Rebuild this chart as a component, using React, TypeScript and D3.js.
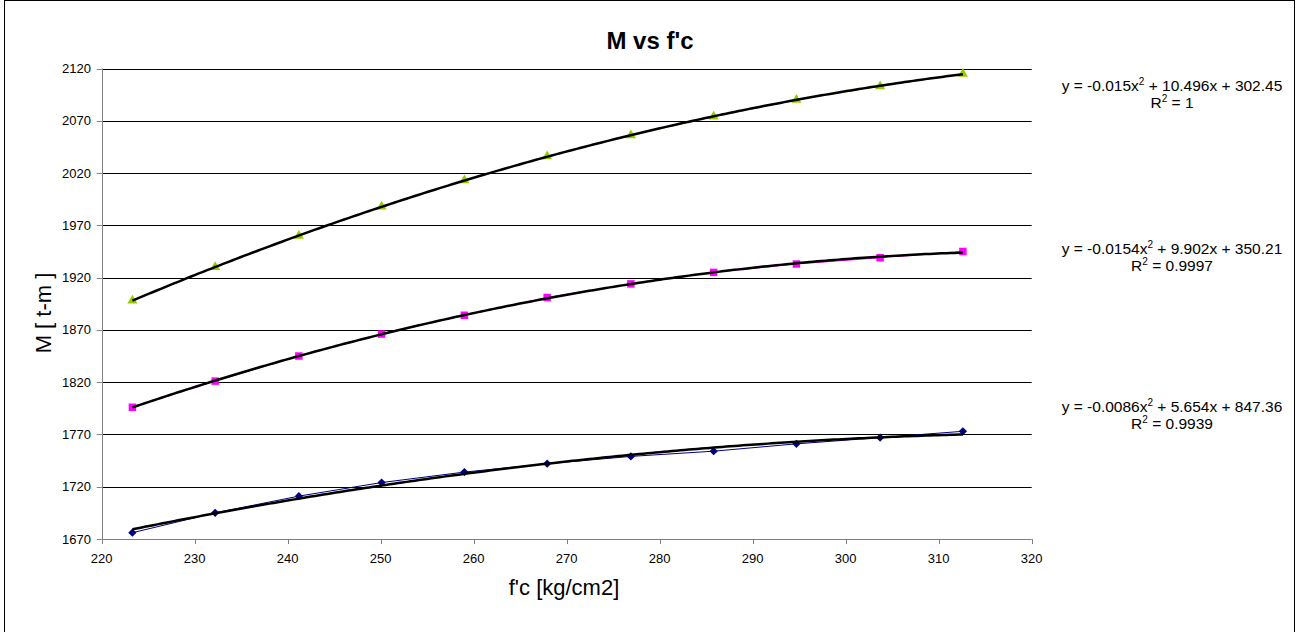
import React from "react";
import * as d3 from "d3";

// f'c values [kg/cm2]
const fcValues = [223.3, 232.2, 241.2, 250.1, 259.0, 267.9, 276.9, 285.8, 294.7, 303.7, 312.6];

// Moment values M [t-m] for each series
const seriesUpper = [1898, 1930, 1960, 1988, 2013, 2036, 2056, 2074, 2090, 2103, 2115];
const seriesMiddle = [1796, 1821, 1845, 1866, 1884, 1901, 1914, 1925, 1933, 1939, 1945];
const seriesLower = [1676, 1695, 1711, 1724, 1734, 1742, 1749, 1754, 1761, 1767, 1773];

// Trendline labels (coefficient text, R² text)
const eqUpper = ["y = -0.015x", " + 10.496x + 302.45", "1"];
const eqMiddle = ["y = -0.0154x", " + 9.902x + 350.21", "0.9997"];
const eqLower = ["y = -0.0086x", " + 5.654x + 847.36", "0.9939"];

const xTicks = [220, 230, 240, 250, 260, 270, 280, 290, 300, 310, 320];
const yTicks = [1670, 1720, 1770, 1820, 1870, 1920, 1970, 2020, 2070, 2120];

const W = 1296;
const H = 632;
const FONT = "'Liberation Sans', Arial, sans-serif";

// Second-order least-squares polynomial fit (like a spreadsheet trendline)
function polyFit2(xs: number[], ys: number[]) {
  const mx = d3.mean(xs) as number;
  let s0 = 0, s1 = 0, s2 = 0, s3 = 0, s4 = 0, t0 = 0, t1 = 0, t2 = 0;
  xs.forEach((xv, i) => {
    const u = xv - mx;
    const y = ys[i];
    s0 += 1; s1 += u; s2 += u * u; s3 += u * u * u; s4 += u * u * u * u;
    t0 += y; t1 += u * y; t2 += u * u * y;
  });
  // Solve 3x3 system with Cramer's rule
  const det = (m: number[][]) =>
    m[0][0] * (m[1][1] * m[2][2] - m[1][2] * m[2][1]) -
    m[0][1] * (m[1][0] * m[2][2] - m[1][2] * m[2][0]) +
    m[0][2] * (m[1][0] * m[2][1] - m[1][1] * m[2][0]);
  const A = [[s0, s1, s2], [s1, s2, s3], [s2, s3, s4]];
  const b = [t0, t1, t2];
  const D = det(A);
  const coef = [0, 1, 2].map((k) => {
    const M = A.map((row, r) => row.map((v, c) => (c === k ? b[r] : v)));
    return det(M) / D;
  });
  return (xv: number) => {
    const u = xv - mx;
    return coef[0] + coef[1] * u + coef[2] * u * u;
  };
}

const x = d3.scaleLinear().domain([220, 320]).range([101.7, 1031.7]);
const y = d3.scaleLinear().domain([1670, 2120]).range([539, 68.5]);

type Series = {
  values: number[];
  color: string;
  symbol: d3.SymbolType;
  size: number;
  rotate: number;
  eq: string[];
  eqY: number;
};

const series: Series[] = [
  { values: seriesLower, color: "#000080", symbol: d3.symbolSquare, size: 34, rotate: 45, eq: eqLower, eqY: 412 },
  { values: seriesMiddle, color: "#FF00FF", symbol: d3.symbolSquare, size: 56, rotate: 0, eq: eqMiddle, eqY: 254 },
  { values: seriesUpper, color: "#99CC00", symbol: d3.symbolTriangle, size: 44, rotate: 0, eq: eqUpper, eqY: 91 },
];

export default function App() {
  const line = d3
    .line<[number, number]>()
    .x((d) => x(d[0]))
    .y((d) => y(d[1]));

  const fineX = d3.range(0, 201).map((i) => fcValues[0] + ((fcValues[fcValues.length - 1] - fcValues[0]) * i) / 200);

  return (
    <svg
      width={W}
      height={H}
      style={{ position: "absolute", left: 0, top: 0, background: "#fff" }}
      fontFamily={FONT}
    >
      <rect x={0} y={0} width={W} height={H} fill="#fff" />
      {/* chart frame */}
      <rect x={4.5} y={0.5} width={1290} height={H + 10} fill="none" stroke="#000" strokeWidth={1} />

      {/* title */}
      <text x={650} y={49} textAnchor="middle" fontSize={24} fontWeight="bold">
        M vs f'c
      </text>

      {/* horizontal gridlines */}
      {yTicks.slice(1).map((t) => (
        <line key={t} x1={x(220)} x2={x(320)} y1={Math.round(y(t)) + 0.5} y2={Math.round(y(t)) + 0.5} stroke="#000" strokeWidth={1} />
      ))}

      {/* y axis */}
      <line x1={Math.round(x(220)) + 0.5} x2={Math.round(x(220)) + 0.5} y1={y(2120)} y2={y(1670)} stroke="#808080" />
      {yTicks.map((t) => (
        <g key={t}>
          <line x1={x(220) - 5} x2={x(220)} y1={Math.round(y(t)) + 0.5} y2={Math.round(y(t)) + 0.5} stroke="#808080" />
          <text x={91} y={y(t) + 4.5} textAnchor="end" fontSize={13}>
            {t}
          </text>
        </g>
      ))}

      {/* x axis */}
      <line x1={x(220)} x2={x(320)} y1={Math.round(y(1670)) + 0.5} y2={Math.round(y(1670)) + 0.5} stroke="#808080" />
      {xTicks.map((t) => (
        <g key={t}>
          <line x1={Math.round(x(t)) + 0.5} x2={Math.round(x(t)) + 0.5} y1={y(1670)} y2={y(1670) + 5} stroke="#808080" />
          <text x={x(t)} y={563} textAnchor="middle" fontSize={13}>
            {t}
          </text>
        </g>
      ))}

      {/* axis titles */}
      <text x={564} y={595} textAnchor="middle" fontSize={22}>
        f'c [kg/cm2]
      </text>
      <text transform={`translate(51,313) rotate(-90)`} textAnchor="middle" fontSize={22}>
        M [ t-m ]
      </text>

      {/* series lines */}
      {series.map((s, i) => (
        <path
          key={"l" + i}
          d={line(fcValues.map((f, j) => [f, s.values[j]])) || ""}
          fill="none"
          stroke={s.color}
          strokeWidth={1}
        />
      ))}

      {/* markers */}
      {series.map((s, i) => (
        <g key={"m" + i}>
          {fcValues.map((f, j) => (
            <path
              key={j}
              transform={`translate(${x(f)},${y(s.values[j])}) rotate(${s.rotate})`}
              d={d3.symbol().type(s.symbol).size(s.size)() || ""}
              fill={s.color}
            />
          ))}
        </g>
      ))}

      {/* polynomial trendlines */}
      {series.map((s, i) => {
        const fit = polyFit2(fcValues, s.values);
        return (
          <path
            key={"t" + i}
            d={line(fineX.map((f) => [f, fit(f)])) || ""}
            fill="none"
            stroke="#000"
            strokeWidth={2.5}
          />
        );
      })}

      {/* trendline equations */}
      {series.map((s, i) => (
        <g key={"e" + i} fontSize={15.5}>
          <text x={1172} y={s.eqY} textAnchor="middle">
            {s.eq[0]}
            <tspan dy={-6} fontSize={10}>2</tspan>
            <tspan dy={6}>{s.eq[1]}</tspan>
          </text>
          <text x={1172} y={s.eqY + 17} textAnchor="middle">
            R<tspan dy={-6} fontSize={10}>2</tspan>
            <tspan dy={6}>{" = " + s.eq[2]}</tspan>
          </text>
        </g>
      ))}
    </svg>
  );
}
